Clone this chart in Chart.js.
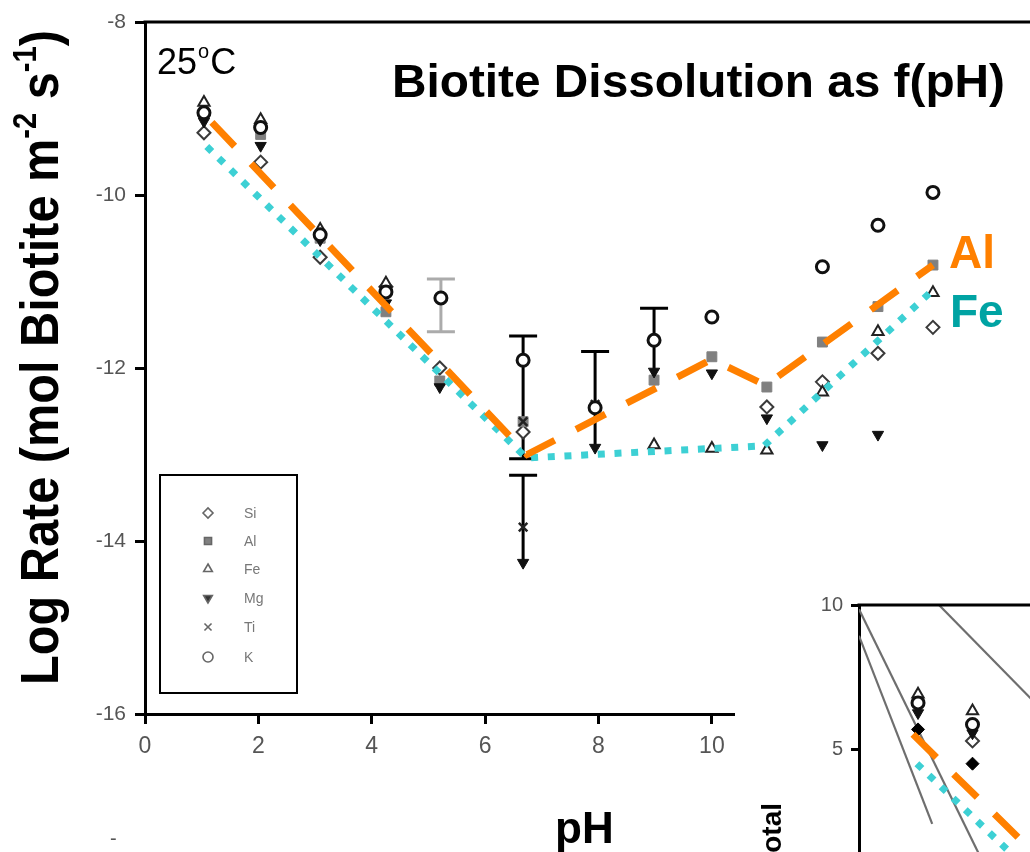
<!DOCTYPE html>
<html>
<head>
<meta charset="utf-8">
<script src="https://cdn.jsdelivr.net/npm/chart.js@4.4.1/dist/chart.umd.min.js"></script>
<style>
  html, body { margin: 0; padding: 0; background: #fff; overflow: hidden; width: 1030px; height: 852px; }
  #main { position: absolute; left: 0; top: 0; width: 1100px; height: 852px; }
  #inset { position: absolute; left: 735px; top: 585px; width: 365px; height: 330px; background: #fff; }
</style>
</head>
<body>
<div id="main"><canvas id="c1" width="1100" height="852"></canvas></div>
<div id="inset"><canvas id="c2" width="365" height="330"></canvas></div>
<script>
// ---- Biotite dissolution rates, log (mol biotite m^-2 s^-1), vs pH at 25 °C ----
const siPH   = [1.04, 2.04, 3.09, 4.25, 5.20, 6.67, 10.97, 11.95, 12.93, 13.90];
const siRate = [-9.28, -9.62, -10.72, -11.06, -12.00, -12.74, -12.45, -12.16, -11.83, -11.53];

const alPH   = [1.04, 2.04, 3.09, 4.25, 5.20, 6.67, 7.94, 8.98, 10.00, 10.97, 11.95, 12.93, 13.90];
const alRate = [-9.05, -9.30, -10.50, -11.35, -12.15, -12.62, -12.45, -12.14, -11.87, -12.22, -11.70, -11.29, -10.81];

const fePH   = [1.04, 2.04, 3.09, 4.25, 8.98, 10.00, 10.97, 11.95, 12.93, 13.90];
const feRate = [-8.93, -9.13, -10.40, -11.02, -12.89, -12.93, -12.95, -12.28, -11.58, -11.13];

const mgPH   = [1.04, 2.04, 3.09, 4.25, 5.20, 6.67, 7.94, 8.98, 10.00, 10.97, 11.95, 12.93];
const mgRate = [-9.15, -9.43, -10.52, -11.25, -12.22, -14.25, -12.92, -12.04, -12.06, -12.58, -12.89, -12.77];

const tiPH   = [6.67, 6.67, 7.94];
const tiRate = [-12.62, -13.84, -12.42];

const kPH    = [1.04, 2.04, 3.09, 4.25, 5.22, 6.67, 7.94, 8.98, 10.00, 11.95, 12.93, 13.90];
const kRate  = [-9.05, -9.22, -10.46, -11.12, -11.19, -11.91, -12.46, -11.68, -11.41, -10.83, -10.35, -9.97];

// error bars (K at pH 5.2 in grey, the rest in black)
const greyErrPH = [5.22];
const greyErrHi = [-10.97];
const greyErrLo = [-11.58];
const blackErrPH = [6.67, 6.67, 7.94, 8.98];
const blackErrHi = [-11.63, -13.24, -11.81, -11.31];
const blackErrLo = [-13.05, -14.28, -12.92, -12.20];
const blackErrLowCap = [true, false, false, false];

// fitted trends
const alFitPH   = [1.18, 6.74, 10.00, 10.95, 13.90];
const alFitRate = [-9.16, -13.00, -11.90, -12.20, -10.81];
const feFitPH   = [1.09, 6.73, 10.92, 13.93];
const feFitRate = [-9.44, -13.04, -12.90, -11.08];

// axis ticks
const xTicks = [0, 2, 4, 6, 8, 10];
const yTicks = [-16, -14, -12, -10, -8];

// ---- small panel: total rate ----
const inFePH = [1.04, 2.00],  inFeVal = [6.90, 6.32];
const inKPH  = [1.04, 2.00],  inKVal  = [6.60, 5.85];
const inMgPH = [1.04, 2.00],  inMgVal = [6.25, 5.55];
const inSiPH = [2.00],        inSiVal = [5.28];
const inTotPH = [1.04, 2.00], inTotVal = [5.68, 4.49];
const inRef1PH = [0.00, 2.45], inRef1Val = [9.85, 0.00];
const inRef2PH = [0.00, 1.29], inRef2Val = [8.93, 2.40];
const inRef3PH = [1.41, 4.00], inRef3Val = [10.00, 4.80];
const inAlFitPH = [0.95, 3.20], inAlFitVal = [5.51, 1.17];
const inFeFitPH = [1.02, 2.80], inFeFitVal = [4.49, 1.15];
const inYTicks = [5, 10];

const FONT = "'Liberation Sans', Arial, Helvetica, sans-serif";
const ORANGE = '#ff8000';
const CYAN = '#3dd0d4';
const pts = (xs, ys) => xs.map((x, i) => ({ x, y: ys[i] }));

const ST = {
  Si: { pointStyle: 'rectRot', pointRotation: 0, pointRadius: 6.5, pointBackgroundColor: '#fff', pointBorderColor: '#3a3a3a', pointBorderWidth: 2 },
  Al: { pointStyle: 'rect', pointRotation: 0, pointRadius: 7, pointBackgroundColor: '#808080', pointBorderColor: '#808080', pointBorderWidth: 1 },
  Fe: { pointStyle: 'triangle', pointRotation: 0, pointRadius: 6.5, pointBackgroundColor: '#fff', pointBorderColor: '#222', pointBorderWidth: 2 },
  Mg: { pointStyle: 'triangle', pointRotation: 180, pointRadius: 6.5, pointBackgroundColor: '#111', pointBorderColor: '#111', pointBorderWidth: 1 },
  Ti: { pointStyle: 'crossRot', pointRotation: 0, pointRadius: 6, pointBackgroundColor: '#222', pointBorderColor: '#222', pointBorderWidth: 2.5 },
  K:  { pointStyle: 'circle', pointRotation: 0, pointRadius: 6, pointBackgroundColor: '#fff', pointBorderColor: '#111', pointBorderWidth: 3 }
};

function pointSet(label, xs, ys, st) {
  return Object.assign({ label, data: pts(xs, ys), showLine: false, pointHoverRadius: st.pointRadius }, st);
}
function lineSet(label, xs, ys, color, dash) {
  return { label, data: pts(xs, ys), showLine: true, borderColor: color, borderWidth: 7, borderDash: dash,
           borderCapStyle: 'butt', pointRadius: 0, pointHoverRadius: 0, tension: 0, fill: false };
}

function drawMarker(ctx, st, x, y, r) {
  ctx.save();
  ctx.fillStyle = st.pointBackgroundColor;
  ctx.strokeStyle = st.pointBorderColor;
  ctx.lineWidth = st.pointBorderWidth;
  Chart.helpers.drawPoint(ctx, { pointStyle: st.pointStyle, rotation: st.pointRotation, radius: r, borderWidth: st.pointBorderWidth }, x, y);
  ctx.restore();
}

// text helper: draws text squeezed/stretched horizontally to a target width
function fitText(ctx, text, x, y, font, width, color) {
  ctx.save();
  ctx.font = font;
  ctx.fillStyle = color;
  ctx.textBaseline = 'alphabetic';
  const w = ctx.measureText(text).width;
  ctx.translate(x, y);
  ctx.scale(width / w, 1);
  ctx.fillText(text, 0, 0);
  ctx.restore();
}

const mainDecor = {
  id: 'mainDecor',
  beforeDatasetsDraw(chart) {
    const { ctx, scales: { x, y } } = chart;
    const bar = (px, hi, lo, color, capLo) => {
      const cx = x.getPixelForValue(px), yh = y.getPixelForValue(hi), yl = y.getPixelForValue(lo);
      ctx.save();
      ctx.strokeStyle = color; ctx.lineWidth = 3; ctx.lineCap = 'butt';
      ctx.beginPath(); ctx.moveTo(cx, yh); ctx.lineTo(cx, yl);
      ctx.moveTo(cx - 14, yh); ctx.lineTo(cx + 14, yh);
      if (capLo) { ctx.moveTo(cx - 14, yl); ctx.lineTo(cx + 14, yl); }
      ctx.stroke(); ctx.restore();
    };
    greyErrPH.forEach((p, i) => bar(p, greyErrHi[i], greyErrLo[i], '#ababab', true));
    blackErrPH.forEach((p, i) => bar(p, blackErrHi[i], blackErrLo[i], '#000', blackErrLowCap[i]));
  },
  afterDraw(chart) {
    const { ctx, chartArea: a } = chart;
    ctx.save();
    // frame top
    ctx.strokeStyle = '#000'; ctx.lineWidth = 3;
    ctx.beginPath(); ctx.moveTo(a.left - 1.5, a.top); ctx.lineTo(chart.width, a.top); ctx.stroke();

    // title & labels
    fitText(ctx, 'Biotite Dissolution as f(pH)', 392, 97, `bold 47px ${FONT}`, 613, '#000');
    ctx.font = `bold 46px ${FONT}`; ctx.fillStyle = ORANGE; ctx.textBaseline = 'alphabetic';
    ctx.fillText('Al', 949, 268);
    ctx.fillStyle = '#00a3a3';
    ctx.fillText('Fe', 950, 327);

    // temperature
    ctx.fillStyle = '#000';
    ctx.font = `36px ${FONT}`;
    ctx.fillText('25', 157, 74);
    let w25 = ctx.measureText('25').width;
    ctx.font = `20px ${FONT}`;
    ctx.fillText('o', 157 + w25 + 1, 58);
    let wo = ctx.measureText('o').width;
    ctx.font = `36px ${FONT}`;
    ctx.fillText('C', 157 + w25 + wo + 2, 74);

    // x title
    ctx.font = `bold 44px ${FONT}`;
    ctx.fillText('pH', 555, 843);

    // y title (rotated, with superscripts)
    const S = 54;
    const parts = [['Log Rate (mol Biotite m', false], ['-2', true], [' s', false], ['-1', true], [')', false]];
    ctx.save();
    ctx.translate(58, 685);
    ctx.rotate(-Math.PI / 2);
    let total = 0;
    parts.forEach(([t, sup]) => { ctx.font = `bold ${sup ? S * 0.6 : S}px ${FONT}`; total += ctx.measureText(t).width; });
    ctx.scale(655 / total, 1);
    let cx = 0;
    parts.forEach(([t, sup]) => {
      ctx.font = `bold ${sup ? S * 0.6 : S}px ${FONT}`;
      ctx.fillText(t, cx, sup ? -S * 0.4 : 0);
      cx += ctx.measureText(t).width;
    });
    ctx.restore();

    // key box
    ctx.strokeStyle = '#000'; ctx.lineWidth = 2;
    ctx.strokeRect(160, 475, 137, 218);
    const keys = [['Si', ST.Si], ['Al', ST.Al], ['Fe', ST.Fe], ['Mg', ST.Mg], ['Ti', ST.Ti], ['K', ST.K]];
    const rows = [513, 541, 569, 598, 627, 657];
    keys.forEach(([name, st], i) => {
      drawMarker(ctx, Object.assign({}, st, { pointBorderColor: '#666', pointBorderWidth: 1.6,
        pointBackgroundColor: st.pointBackgroundColor === '#fff' ? '#fff' : (name === 'Al' ? '#808080' : '#333') }), 208, rows[i], 5);
      ctx.font = `14px ${FONT}`; ctx.fillStyle = '#777'; ctx.textBaseline = 'middle';
      ctx.fillText(name, 244, rows[i] + 1);
    });

    ctx.textBaseline = 'alphabetic';
    ctx.font = `20px ${FONT}`; ctx.fillStyle = '#555';
    ctx.fillText('-', 110, 845);
    ctx.restore();
  }
};

new Chart(document.getElementById('c1'), {
  type: 'scatter',
  data: {
    datasets: [
      lineSet('Al trend', alFitPH, alFitRate, ORANGE, [33, 24]),
      lineSet('Fe trend', feFitPH, feFitRate, CYAN, [7, 9.7]),
      pointSet('K', kPH, kRate, ST.K),
      pointSet('Ti', tiPH, tiRate, ST.Ti),
      pointSet('Mg', mgPH, mgRate, ST.Mg),
      pointSet('Fe', fePH, feRate, ST.Fe),
      pointSet('Al', alPH, alRate, ST.Al),
      pointSet('Si', siPH, siRate, ST.Si)
    ]
  },
  options: {
    responsive: false,
    animation: false,
    events: [],
    layout: { padding: { left: 0, right: 48, top: 22, bottom: 0 } },
    plugins: { legend: { display: false }, tooltip: { enabled: false } },
    scales: {
      x: {
        type: 'linear', min: 0, max: 16,
        afterFit(s) { s.height = 138; },
        afterBuildTicks(s) { s.ticks = xTicks.map(v => ({ value: v })); },
        border: { display: true, color: '#000', width: 3 },
        grid: { display: true, drawOnChartArea: false, drawTicks: true, tickLength: 10, tickWidth: 3, tickColor: '#000' },
        ticks: { color: '#555', font: { family: FONT, size: 23 }, padding: 9, maxRotation: 0 }
      },
      y: {
        type: 'linear', min: -16, max: -8,
        afterFit(s) { s.width = 145; },
        afterBuildTicks(s) { s.ticks = yTicks.map(v => ({ value: v })); },
        border: { display: true, color: '#000', width: 3 },
        grid: { display: true, drawOnChartArea: false, drawTicks: true, tickLength: 10, tickWidth: 3, tickColor: '#000' },
        ticks: { color: '#555', font: { family: FONT, size: 21 }, padding: 9 }
      }
    }
  },
  plugins: [mainDecor]
});

// ---- small panel ----
const insetDecor = {
  id: 'insetDecor',
  afterDraw(chart) {
    const { ctx, chartArea: a } = chart;
    ctx.save();
    ctx.strokeStyle = '#000'; ctx.lineWidth = 3;
    ctx.beginPath(); ctx.moveTo(a.left - 1.5, a.top); ctx.lineTo(chart.width, a.top); ctx.stroke();
    // axis title (rotated)
    ctx.translate(46, 218);
    ctx.rotate(-Math.PI / 2);
    ctx.font = `bold 28px ${FONT}`; ctx.fillStyle = '#000';
    ctx.textAlign = 'right'; ctx.textBaseline = 'alphabetic';
    ctx.fillText('total', 0, 0);
    ctx.restore();
  }
};

const ST_TOT = { pointStyle: 'rectRot', pointRotation: 0, pointRadius: 6.5, pointBackgroundColor: '#000', pointBorderColor: '#000', pointBorderWidth: 1 };
function refLine(label, xs, ys) {
  return { label, data: pts(xs, ys), showLine: true, borderColor: '#6e6e6e', borderWidth: 2.2, pointRadius: 0, tension: 0, fill: false };
}

new Chart(document.getElementById('c2'), {
  type: 'scatter',
  data: {
    datasets: [
      lineSet('Al trend', inAlFitPH, inAlFitVal, ORANGE, [33, 24]),
      lineSet('Fe trend', inFeFitPH, inFeFitVal, CYAN, [7, 9.7]),
      pointSet('total', inTotPH, inTotVal, ST_TOT),
      pointSet('K', inKPH, inKVal, ST.K),
      pointSet('Mg', inMgPH, inMgVal, ST.Mg),
      pointSet('Fe', inFePH, inFeVal, ST.Fe),
      pointSet('Si', inSiPH, inSiVal, ST.Si),
      refLine('ref 1', inRef1PH, inRef1Val),
      refLine('ref 2', inRef2PH, inRef2Val),
      refLine('ref 3', inRef3PH, inRef3Val)
    ]
  },
  options: {
    responsive: false,
    animation: false,
    events: [],
    layout: { padding: { left: 0, right: 14, top: 16, bottom: 0 } },
    plugins: { legend: { display: false }, tooltip: { enabled: false } },
    scales: {
      x: {
        type: 'linear', min: 0, max: 4,
        afterFit(s) { s.height = 22; },
        border: { display: false },
        grid: { display: false },
        ticks: { display: false }
      },
      y: {
        type: 'linear', min: 0, max: 10,
        afterFit(s) { s.width = 124; },
        afterBuildTicks(s) { s.ticks = inYTicks.map(v => ({ value: v })); },
        border: { display: true, color: '#000', width: 3 },
        grid: { display: true, drawOnChartArea: false, drawTicks: true, tickLength: 8, tickWidth: 3, tickColor: '#000' },
        ticks: { color: '#555', font: { family: FONT, size: 20 }, padding: 8 }
      }
    }
  },
  plugins: [insetDecor]
});
</script>
</body>
</html>
